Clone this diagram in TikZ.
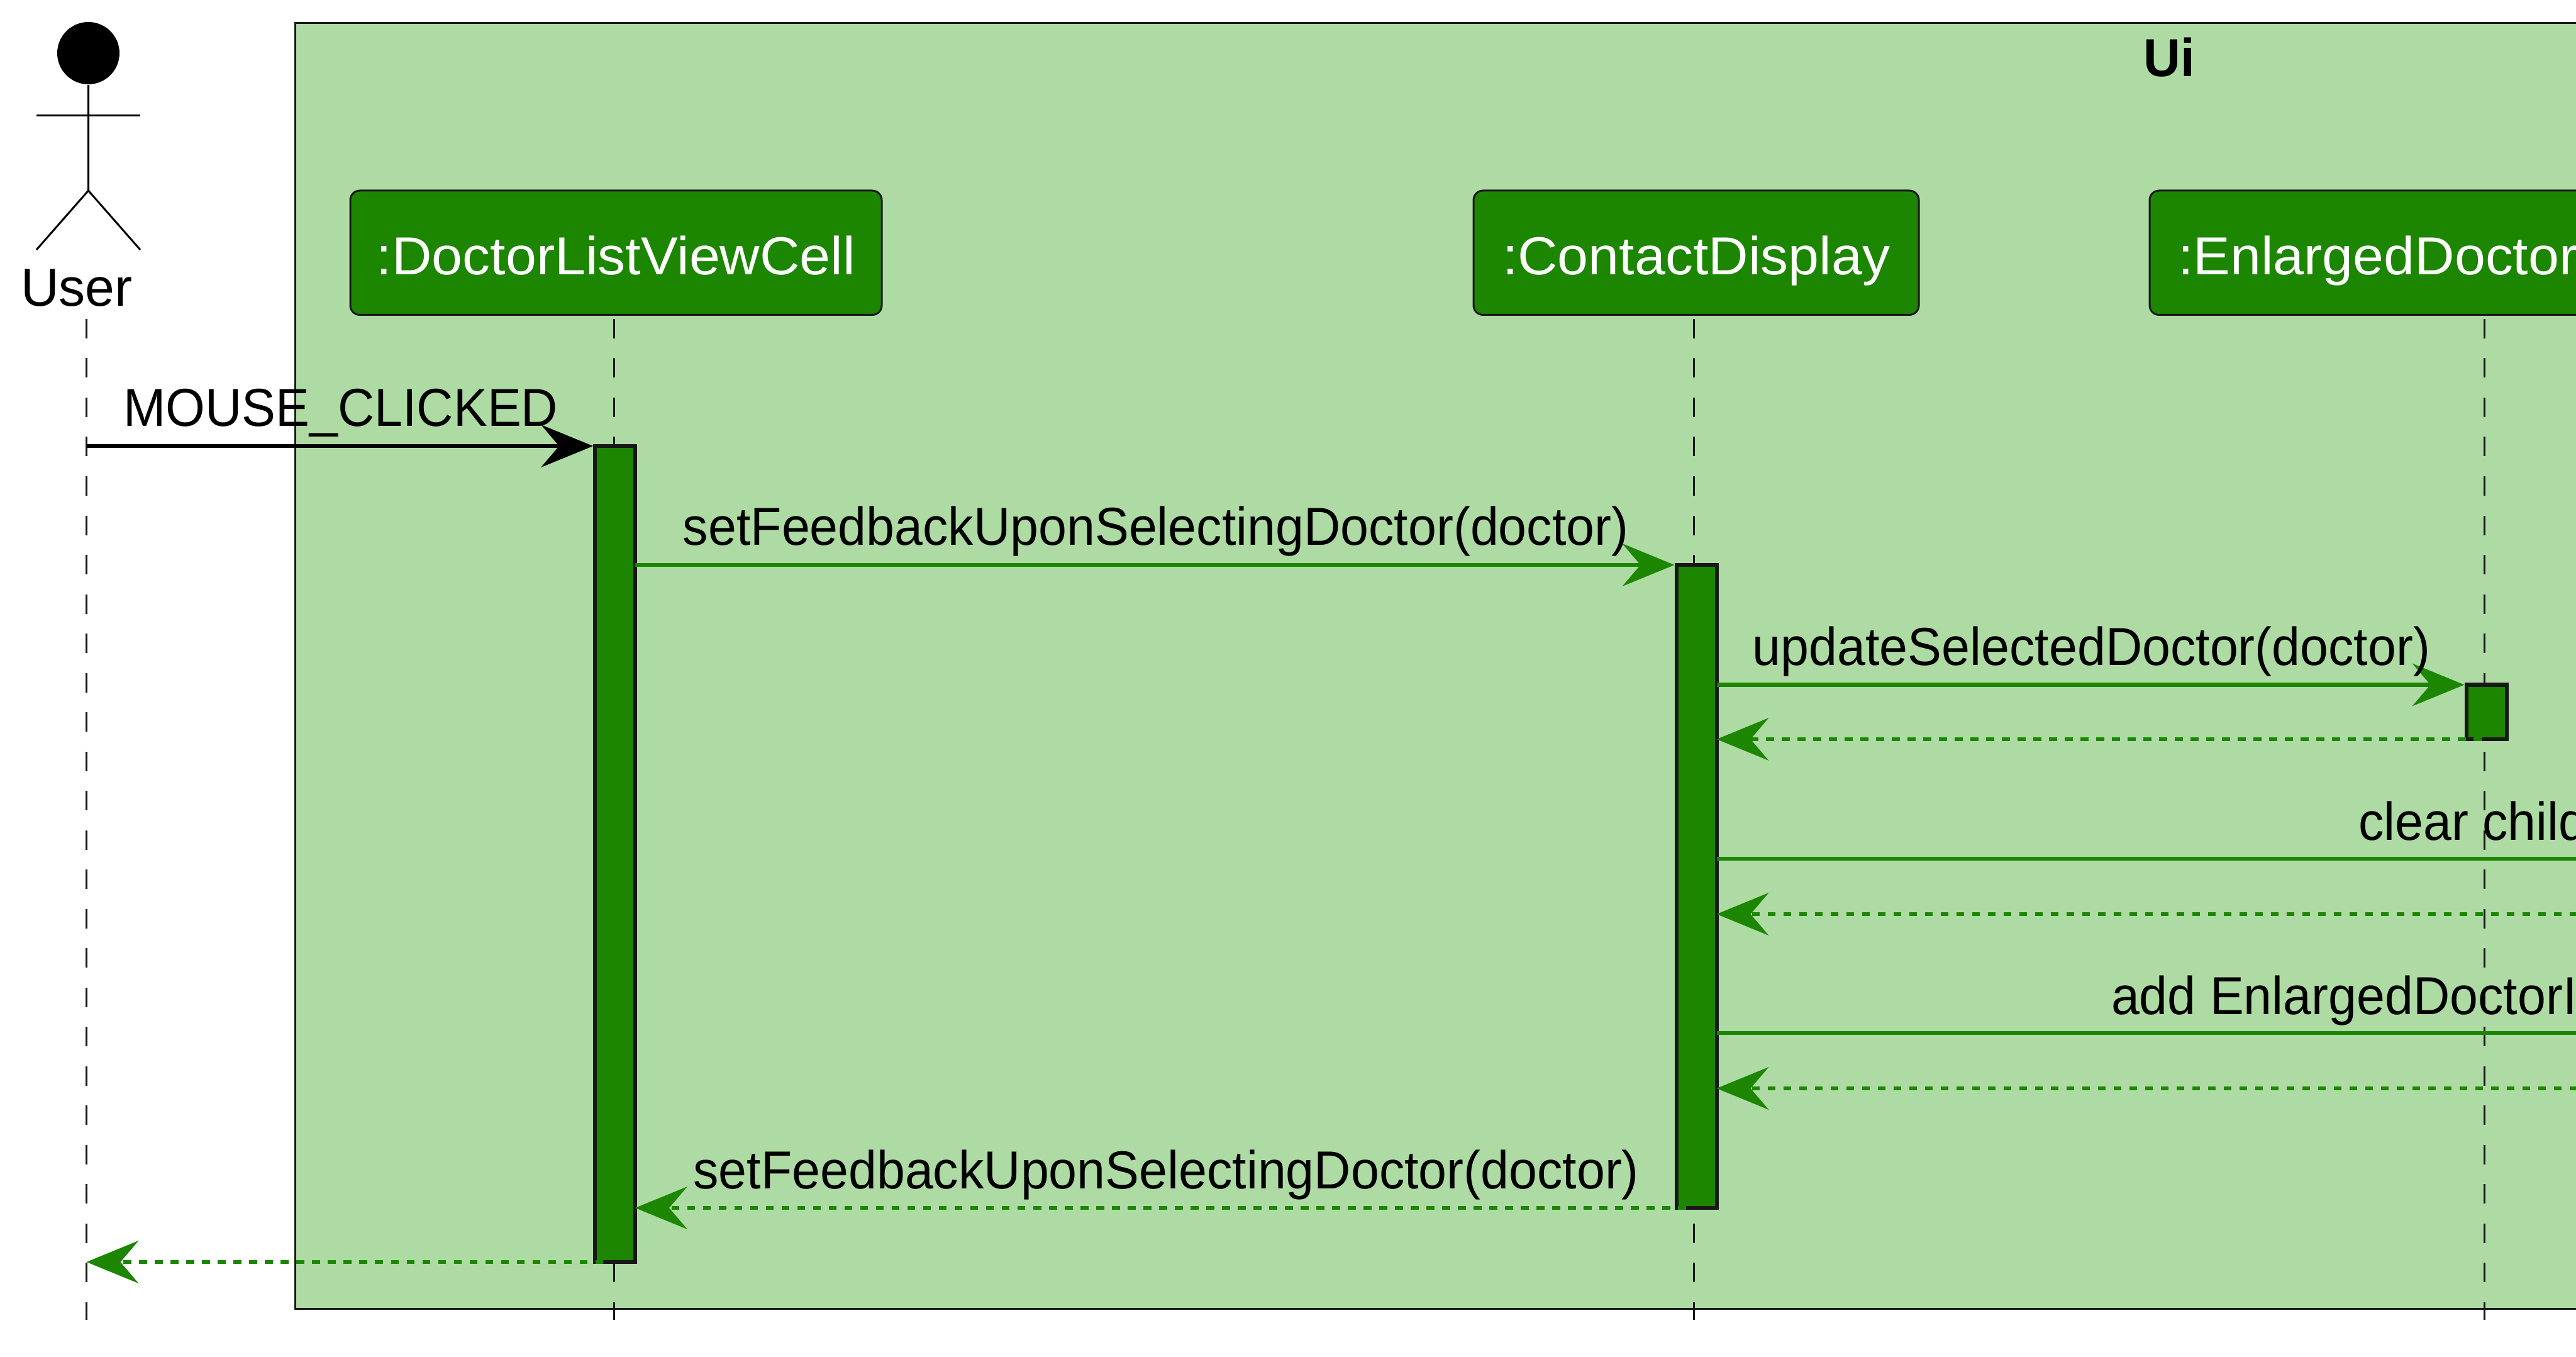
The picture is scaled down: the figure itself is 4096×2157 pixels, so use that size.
\documentclass[tikz,border=0pt]{standalone}
\usepackage{fontspec}
\usetikzlibrary{arrows.meta,positioning}
\newfontfamily\msgfont[FakeStretch=0.95]{Liberation Sans}
\newfontfamily\boxfont[FakeStretch=1.035]{Liberation Sans}
\newfontfamily\userfont[FakeStretch=0.99]{Liberation Sans}
\newfontfamily\titlefont[FakeStretch=0.96]{Liberation Sans Bold}
\definecolor{umlgreen}{HTML}{1C8600}
\definecolor{uibg}{HTML}{AEDBA3}
\definecolor{umlline}{HTML}{181818}
\newcommand{\px}{0.2pt}
\tikzset{
  part/.style={draw=umlline,fill=umlgreen,text=white,line width=.6pt,rounded corners=3pt,
    inner sep=0pt,outer sep=0pt,minimum height=197.5*\px,text height=17.6pt,text depth=3.6pt,
    font=\boxfont\fontsize{17}{20}\selectfont},
  actbar/.style={draw=umlline,fill=umlgreen,line width=1.2pt,inner sep=0pt,outer sep=0pt,
    minimum width=64*\px},
  lifeline/.style={draw=umlline,line width=.6pt,dash pattern=on 6.2pt off 6.3pt},
  msg/.style={-{Stealth[length=16.6pt,width=13.6pt,inset=5.8pt,line width=0pt]},color=umlgreen,
    line width=1.2pt,shorten >=.6pt},
  ret/.style={-{Stealth[length=16.6pt,width=13.6pt,inset=5.8pt,line width=0pt]},color=umlgreen,
    line width=1.2pt,dash pattern=on 2.5pt off 2.5pt},
  lbl/.style={anchor=base,yshift=6.2pt,inner sep=0pt,text=black,
    font=\msgfont\fontsize{17}{20}\selectfont}
}
\begin{document}
\begin{tikzpicture}[x=0.2pt,y=-0.2pt,on grid]
  \useasboundingbox (0,0) rectangle (4096,2157);
  \clip (0,0) rectangle (4096,2157);
  % box
  \draw[draw=umlline,fill=uibg,line width=.6pt] (469,37) rectangle (4125,2080.5);
  \node[anchor=base,inner sep=0pt,font=\titlefont\fontsize{17}{20}\selectfont] (ui) at (3449.5,122) {Ui};
  % actor
  \node[circle,fill=black,inner sep=0pt,minimum size=99*\px] (userhead) at (140.5,84.5) {};
  \coordinate (userhip) at (140.5,303);
  \draw[line width=.6pt] (userhead.south) -- (userhip) -- (58,397);
  \draw[line width=.6pt] (userhip) -- (223,397);
  \draw[line width=.6pt] (58,184) -- (223,184);
  \node[anchor=base,inner sep=0pt,font=\userfont\fontsize{17}{20}\selectfont] (userlabel) at (122,487) {User};
  % participants
  \node[part,minimum width=845*\px] (cell) at (979.5,401.75) {:DoctorListViewCell};
  \node[part,minimum width=708*\px] (contact) [right=343.5pt of cell] {:ContactDisplay};
  \node[part,anchor=west,text width=700*\px,inner xsep=45*\px,align=left] (enlarged) at (3418,401.75) {:EnlargedDoctor};
  % lifelines
  \coordinate (user0) at (137.5,507);   \coordinate (user1) at (137.5,2098);
  \coordinate (cell0) at (976,507);     \coordinate (cell1) at (976,2098);
  \coordinate (contact0) at (2693.5,507); \coordinate (contact1) at (2693.5,2098);
  \coordinate (enlarged0) at (3950,507);  \coordinate (enlarged1) at (3950,2098);
  \foreach \who in {user,cell,contact,enlarged}
    \draw[lifeline] (\who0) -- (\who1);
  % activations
  \node[actbar,anchor=north,minimum height=1297*\px] (cellbar) at (978,709) {};
  \node[actbar,anchor=north,minimum height=1022*\px] (contactbar) at (2697.5,898) {};
  \node[actbar,anchor=north,minimum height=86.5*\px] (enlargedbar) at (3953.5,1088.5) {};
  % free ends on the right
  \coordinate (clearend) at (4123,1365);
  \coordinate (clearback) at (4123,1453);
  \coordinate (addend) at (4123,1642);
  \coordinate (addback) at (4123,1730);
  % messages
  \path[msg,color=black] (user0 |- cellbar.north) edge node[lbl] {MOUSE\_CLICKED} (cellbar.north west);
  \path[msg] (cellbar.east |- contactbar.north) edge node[lbl] {setFeedbackUponSelectingDoctor(doctor)} (contactbar.north west);
  \path[msg] (contactbar.east |- enlargedbar.north) edge node[lbl] {updateSelectedDoctor(doctor)} (enlargedbar.north west);
  \path[ret] ([xshift=-1.6pt]enlargedbar.south) edge (contactbar.east |- enlargedbar.south);
  \path[msg,-] (contactbar.east |- clearend) edge (clearend);
  \node[lbl,anchor=base west,yshift=-6.2pt] (clearlabel) at (3749,1335) {clear child};
  \path[ret] (clearback) edge (contactbar.east |- clearback);
  \path[msg,-] (contactbar.east |- addend) edge (addend);
  \node[lbl,anchor=base west,yshift=-6.2pt] (addlabel) at (3356,1612) {add EnlargedDoctorIn};
  \path[ret] (addback) edge (contactbar.east |- addback);
  \path[ret] ([xshift=-3.4pt]contactbar.south) edge node[lbl,xshift=1.8pt] {setFeedbackUponSelectingDoctor(doctor)} (cellbar.east |- contactbar.south);
  \path[ret] ([xshift=-3.8pt]cellbar.south) edge (user0 |- cellbar.south);
\end{tikzpicture}
\end{document}
